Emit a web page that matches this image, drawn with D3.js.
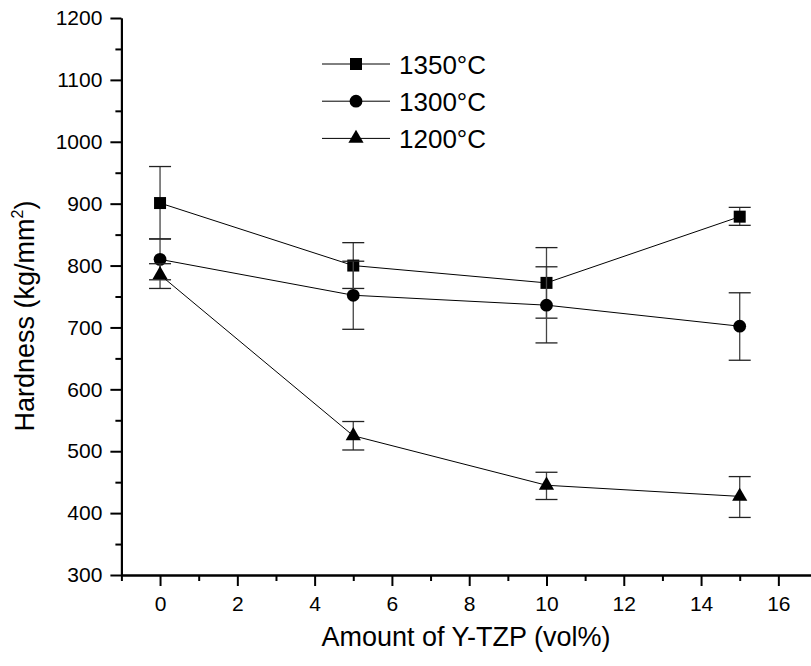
<!DOCTYPE html>
<html>
<head>
<meta charset="utf-8">
<script src="https://cdn.jsdelivr.net/npm/d3@7"></script>
<style>
  body { margin: 0; background: #fff; }
  svg { display: block; font-family: 'Liberation Sans', Arial, sans-serif; }
</style>
</head>
<body>
<div id="chart"></div>
<script>
let w = 811,
    h = 666

// data
let xValues = [0, 5, 10, 15]
let seriesNames = ['1350°C', '1300°C', '1200°C']
let symbols = ['square', 'circle', 'triangle']
let hardness1350 = [901, 800, 772, 879]
let low1350 = [843, 763, 715, 865]
let high1350 = [960, 837, 829, 894]
let hardness1300 = [810, 752, 736, 702]
let low1300 = [777, 697, 675, 647]
let high1300 = [843, 807, 798, 756]
let hardness1200 = [785, 525, 445, 427]
let low1200 = [763, 502, 422, 393]
let high1200 = [803, 548, 466, 459]
let xTicks = [0, 2, 4, 6, 8, 10, 12, 14, 16]
let yTicks = [300, 400, 500, 600, 700, 800, 900, 1000, 1100, 1200]

let series = [
    { name: seriesNames[0], sym: symbols[0], v: hardness1350, lo: low1350, hi: high1350 },
    { name: seriesNames[1], sym: symbols[1], v: hardness1300, lo: low1300, hi: high1300 },
    { name: seriesNames[2], sym: symbols[2], v: hardness1200, lo: low1200, hi: high1200 }
]

let x = d3.scaleLinear().domain([-1, 17]).range([121.4, 817])
let y = d3.scaleLinear().domain([300, 1200]).range([575, 18])

let svg = d3.select('#chart')
    .append('svg')
    .attr('width', w)
    .attr('height', h)

// axes
let xAxis = d3.axisBottom(x).tickValues(xTicks).tickSize(11).tickSizeOuter(0).tickPadding(10).tickFormat(d3.format('d'))
let xMinor = d3.axisBottom(x).tickValues(d3.range(-1, 18, 2)).tickSize(6).tickFormat('').tickSizeOuter(0)
let yAxis = d3.axisLeft(y).tickValues(yTicks).tickSize(11).tickSizeOuter(0).tickPadding(8).tickFormat(d3.format('d'))
let yMinor = d3.axisLeft(y).tickValues(d3.range(350, 1200, 100)).tickSize(6).tickFormat('').tickSizeOuter(0)

let styleAxis = g => {
    g.attr('font-family', null).attr('font-size', 21)
    g.select('.domain').attr('stroke', '#000').attr('stroke-width', 2)
    g.selectAll('.tick line').attr('stroke', '#000').attr('stroke-width', 2)
    g.selectAll('.tick text').attr('fill', '#000')
}

svg.append('g').attr('transform', `translate(0,${y(300)})`).call(xMinor).call(styleAxis)
svg.append('g').attr('transform', `translate(0,${y(300)})`).call(xAxis).call(styleAxis)
svg.append('g').attr('transform', `translate(${x(-1)},0)`).call(yMinor).call(styleAxis)
svg.append('g').attr('transform', `translate(${x(-1)},0)`).call(yAxis).call(styleAxis)

// axis titles
svg.append('text')
    .attr('x', 466)
    .attr('y', 646)
    .attr('text-anchor', 'middle')
    .attr('font-size', 27)
    .text('Amount of Y-TZP (vol%)')

let yTitle = svg.append('text')
    .attr('transform', 'translate(34,316) rotate(-90)')
    .attr('text-anchor', 'middle')
    .attr('font-size', 27)
yTitle.append('tspan').text('Hardness (kg/mm')
yTitle.append('tspan').attr('font-size', 16).attr('dy', -11).text('2')
yTitle.append('tspan').attr('dy', 11).text(')')

let symbolPath = (sym) => {
    if (sym === 'square') return d3.symbol(d3.symbolSquare, 144)()
    if (sym === 'circle') return d3.symbol(d3.symbolCircle, 128)()
    return d3.symbol(d3.symbolTriangle, 100)()
}

let line = d3.line()
    .x((d, i) => x(xValues[i]))
    .y(d => y(d))

series.forEach(s => {
    let g = svg.append('g')
    g.append('path')
        .attr('d', line(s.v))
        .attr('fill', 'none')
        .attr('stroke', '#000')
        .attr('stroke-width', 1)

    let eb = g.selectAll('.eb')
        .data(xValues)
        .enter()
        .append('g')
    eb.append('line')
        .attr('x1', d => x(d)).attr('x2', d => x(d))
        .attr('y1', (d, i) => y(s.lo[i])).attr('y2', (d, i) => y(s.hi[i]))
        .attr('stroke', '#444').attr('stroke-width', 1.3)
    eb.append('line')
        .attr('x1', d => x(d) - 11).attr('x2', d => x(d) + 11)
        .attr('y1', (d, i) => y(s.lo[i])).attr('y2', (d, i) => y(s.lo[i]))
        .attr('stroke', '#222').attr('stroke-width', 1.3)
    eb.append('line')
        .attr('x1', d => x(d) - 11).attr('x2', d => x(d) + 11)
        .attr('y1', (d, i) => y(s.hi[i])).attr('y2', (d, i) => y(s.hi[i]))
        .attr('stroke', '#222').attr('stroke-width', 1.3)

    g.selectAll('.mk')
        .data(s.v)
        .enter()
        .append('path')
        .attr('d', symbolPath(s.sym))
        .attr('transform', (d, i) => `translate(${x(xValues[i])},${y(d)})`)
        .attr('fill', '#000')
})

// legend
let legend = svg.append('g')
series.forEach((s, i) => {
    let ly = 64 + i * 37.2
    legend.append('line')
        .attr('x1', 322).attr('x2', 390)
        .attr('y1', ly).attr('y2', ly)
        .attr('stroke', '#000').attr('stroke-width', 1)
    legend.append('path')
        .attr('d', symbolPath(s.sym))
        .attr('transform', `translate(356,${ly})`)
        .attr('fill', '#000')
    legend.append('text')
        .attr('x', 399)
        .attr('y', ly + 9.5)
        .attr('font-size', 26)
        .text(s.name)
})
</script>
</body>
</html>
